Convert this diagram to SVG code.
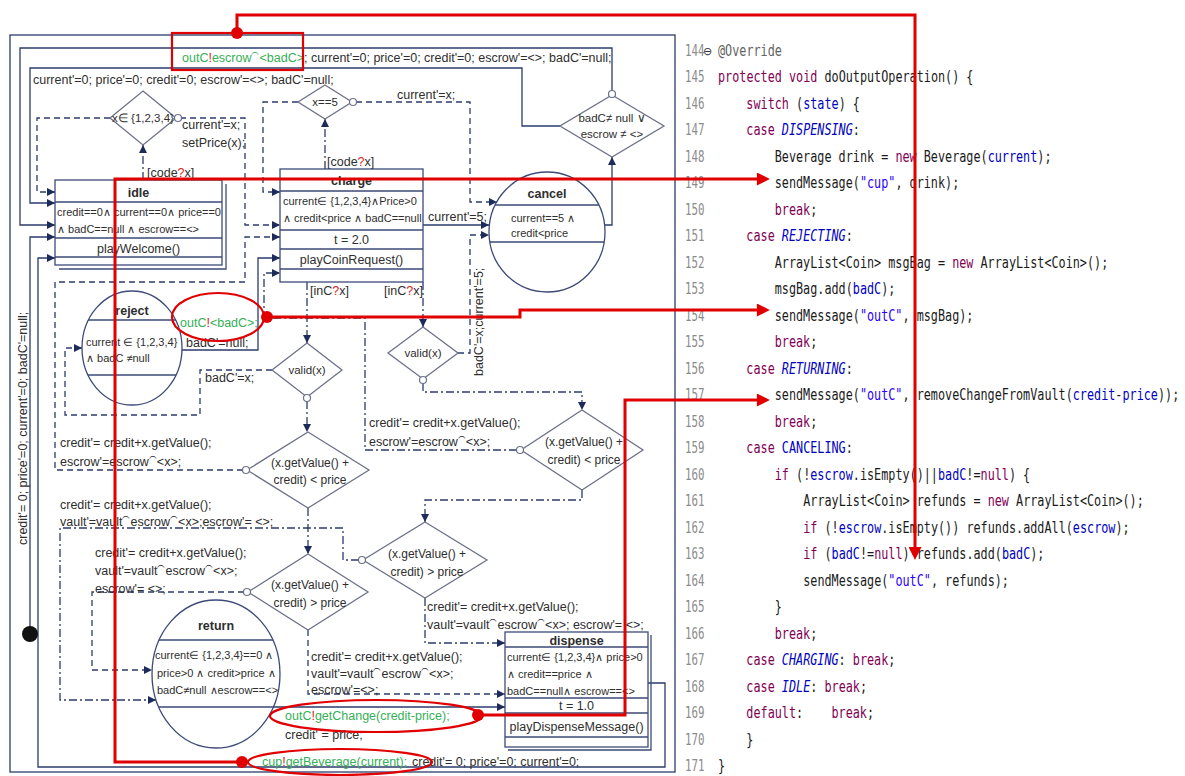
<svg xmlns="http://www.w3.org/2000/svg" width="1185" height="776" viewBox="0 0 1185 776">
<defs>
<marker id="ah" viewBox="0 0 10 10" refX="10" refY="5" markerWidth="10" markerHeight="8" markerUnits="userSpaceOnUse" orient="auto"><path d="M0,0L10,5L0,10z" fill="#1c2b5a"/></marker>
<marker id="rh" viewBox="0 0 10 10" refX="7" refY="5" markerWidth="14" markerHeight="13" markerUnits="userSpaceOnUse" orient="auto"><path d="M0,0L10,5L0,10z" fill="#e00000"/></marker>
<style>
.ln{fill:none;stroke:#2b3b6b;stroke-width:1.3}
.ds{stroke-dasharray:6 4}
.dd{stroke-dasharray:8 3 2 3}
.box{fill:#fff;stroke:#3c4a78;stroke-width:1.3}
.sep{stroke:#3c4a78;stroke-width:1.3}
.dia{fill:#fff;stroke:#6d7189;stroke-width:1.3}
.oc{fill:#fff;stroke:#6d7189;stroke-width:1.2}
text{font-family:'Liberation Sans',Arial,sans-serif;fill:#2e2e2e}
.lb{font-size:12.5px}
.cd{font-size:11px}
.ac{font-size:12.5px}
.ti{font-size:12.5px;font-weight:bold}
.g{fill:#35b057}
.rd{fill:#e02020}
.red{fill:none;stroke:#e00000;stroke-width:3}
.rel{fill:none;stroke:#e00000;stroke-width:2.2}
.mono{font-family:'DejaVu Sans Mono',monospace;font-size:16px;fill:#1a1a1a}
.num{font-family:'DejaVu Sans Mono',monospace;font-size:15px;fill:#8c8c8c}
.k{fill:#7f0055}
.f{fill:#0000c0}
.e{fill:#0000c0;font-style:italic}
.s{fill:#2a00ff}
</style>
</defs>
<rect width="1185" height="776" fill="#fff"/>

<rect x="10" y="35" width="665" height="737" class="ln"/>

<g id="connectors">
<path class="ln" d="M612,91 V48 H20 V225 H55" marker-end="url(#ah)"/>
<path class="ln" d="M560,126 H522 V68 H30 V203 H55" marker-end="url(#ah)"/>
<path class="ln ds" d="M110,118 H37 V192 H55" marker-end="url(#ah)"/>
<path class="ln ds" d="M180,118 H245 V225 H280" marker-end="url(#ah)"/>
<path class="ln ds" d="M243,470 H55 V282 H245 V237 H280" marker-end="url(#ah)"/>
<path class="ln ds" d="M298,102 H263 V192 H280" marker-end="url(#ah)"/>
<path class="ln ds" d="M356,102 H470 V202 H497" marker-end="url(#ah)"/>
<path class="ln" d="M423,225 H489" marker-end="url(#ah)"/>
<path class="ln ds" d="M458,353 H470 V235 H489" marker-end="url(#ah)"/>
<path class="ln" d="M605,225 H612 V157" marker-end="url(#ah)"/>
<path class="ln dd" d="M143,180 V145" marker-end="url(#ah)"/>
<path class="ln dd" d="M325,169 V119" marker-end="url(#ah)"/>
<path class="ln dd" d="M307,282 V343" marker-end="url(#ah)"/>
<path class="ln dd" d="M423,282 V327" marker-end="url(#ah)"/>
<path class="ln dd" d="M307,401 V432" marker-end="url(#ah)"/>
<path class="ln ds" d="M272,370 H200 V415 H65 V348 H82" marker-end="url(#ah)"/>
<path class="ln" d="M182,350 H258 V258 H280" marker-end="url(#ah)"/>
<path class="ln dd" d="M423,383 V392 H582 V410" marker-end="url(#ah)"/>
<path class="ln dd" d="M517,450 H365 V318 H264 V273 H280" marker-end="url(#ah)"/>
<path class="ln dd" d="M308,508 V554" marker-end="url(#ah)"/>
<path class="ln dd" d="M582,490 V500 H425 V522" marker-end="url(#ah)"/>
<path class="ln ds" d="M244,592 H92 V670 H152" marker-end="url(#ah)"/>
<path class="ln dd" d="M359,560 H343 V528 H60 V700 H156" marker-end="url(#ah)"/>
<path class="ln ds" d="M308,630 V694 H505" marker-end="url(#ah)"/>
<path class="ln dd" d="M425,598 V643 H505" marker-end="url(#ah)"/>
<path class="ln" d="M273,707 H505" marker-end="url(#ah)"/>
<path class="ln" d="M648,683 H665 V767 H38 V258 H55" marker-end="url(#ah)"/>
<path class="ln" d="M30,627 V237 H55" marker-end="url(#ah)"/>
</g>

<g id="labels">
<text class="lb" x="33" y="84">current'=0; price'=0; credit'=0; escrow'=&lt;&gt;; badC'=null;</text>
<text class="lb" x="182" y="62"><tspan class="g">outC</tspan><tspan class="rd">!</tspan><tspan class="g">escrow⁀&lt;badC&gt;</tspan>; current'=0; price'=0; credit'=0; escrow'=&lt;&gt;; badC'=null;</text>
<text class="lb" x="182" y="129">current'=x;</text>
<text class="lb" x="182" y="147">setPrice(x);</text>
<text class="lb" x="147" y="177">[code<tspan class="rd">?</tspan>x]</text>
<text class="lb" x="327" y="166">[code<tspan class="rd">?</tspan>x]</text>
<text class="lb" x="397" y="99">current'=x;</text>
<text class="lb" x="428" y="221">current'=5;</text>
<text class="lb" x="310" y="295">[inC<tspan class="rd">?</tspan>x]</text>
<text class="lb" x="384" y="295">[inC<tspan class="rd">?</tspan>x]</text>
<text class="lb" transform="translate(483,376) rotate(-90)">badC'=x;current'=5;</text>
<text class="lb" x="180" y="327"><tspan class="g">outC</tspan><tspan class="rd">!</tspan><tspan class="g">&lt;badC&gt;;</tspan></text>
<text class="lb" x="186" y="347">badC'=null;</text>
<text class="lb" x="205" y="382">badC'=x;</text>
<text class="lb" x="60" y="447">credit'= credit+x.getValue();</text>
<text class="lb" x="60" y="466">escrow'=escrow⁀&lt;x&gt;;</text>
<text class="lb" x="369" y="427">credit'= credit+x.getValue();</text>
<text class="lb" x="369" y="446">escrow'=escrow⁀&lt;x&gt;;</text>
<text class="lb" x="60" y="509">credit'= credit+x.getValue();</text>
<text class="lb" x="60" y="526">vault'=vault⁀escrow⁀&lt;x&gt;;escrow'= &lt;&gt;;</text>
<text class="lb" x="95" y="557">credit'= credit+x.getValue();</text>
<text class="lb" x="95" y="575">vault'=vault⁀escrow⁀&lt;x&gt;;</text>
<text class="lb" x="95" y="593">escrow'= &lt;&gt;;</text>
<text class="lb" x="427" y="611">credit'= credit+x.getValue();</text>
<text class="lb" x="427" y="629">vault'=vault⁀escrow⁀&lt;x&gt;; escrow'= &lt;&gt;;</text>
<text class="lb" x="311" y="661">credit'= credit+x.getValue();</text>
<text class="lb" x="311" y="678">vault'=vault⁀escrow⁀&lt;x&gt;;</text>
<text class="lb" x="311" y="694">escrow'=&lt;&gt;;</text>
<text class="lb" x="285" y="720"><tspan class="g">outC</tspan><tspan class="rd">!</tspan><tspan class="g">getChange(credit-price);</tspan></text>
<text class="lb" x="285" y="739">credit' = price;</text>
<text class="lb" x="262" y="766"><tspan class="g">cup</tspan><tspan class="rd">!</tspan><tspan class="g">getBeverage(current);</tspan><tspan x="412">credit'= 0; price'=0; current'=0;</tspan></text>
<text class="lb" transform="translate(27,545) rotate(-90)">credit'= 0; price'=0; current'=0; badC'=null;</text>
</g>

<g id="initial"><circle cx="30" cy="634" r="8" fill="#111"/></g>

<g id="idle">
<path d="M226,184 V269 H59" fill="none" class="sep"/>
<rect x="55" y="180" width="167" height="85" class="box"/>
<path d="M55,202 H222 M55,238 H222 M55,257 H222" class="sep"/>
<text class="ti" x="138.5" y="197" text-anchor="middle">idle</text>
<text class="cd" x="57" y="216">credit==0∧ current==0∧ price==0</text>
<text class="cd" x="57" y="233">∧ badC==null ∧ escrow==&lt;&gt;</text>
<text class="ac" x="138.5" y="253" text-anchor="middle">playWelcome()</text>
</g>

<g id="charge">
<rect x="280" y="169" width="143" height="113" class="box"/>
<path d="M280,191 H423 M280,230 H423 M280,249 H423 M280,269 H423" class="sep"/>
<text class="ti" x="351.5" y="185" text-anchor="middle">charge</text>
<text class="cd" x="283" y="205">current∈ {1,2,3,4}∧Price&gt;0</text>
<text class="cd" x="283" y="222">∧ credit&lt;price ∧ badC==null</text>
<text class="ac" x="351.5" y="244" text-anchor="middle">t = 2.0</text>
<text class="ac" x="351.5" y="264" text-anchor="middle">playCoinRequest()</text>
</g>

<g id="cancel">
<ellipse cx="547" cy="232" rx="58" ry="60" class="box" stroke-width="1.6"/>
<path d="M495,205 H599 M490,242 H604" class="sep" stroke-width="2"/>
<text class="ti" x="547" y="198" text-anchor="middle">cancel</text>
<text class="cd" x="511" y="222">current==5 ∧</text>
<text class="cd" x="511" y="237">credit&lt;price</text>
</g>

<g id="reject">
<ellipse cx="132" cy="348" rx="50" ry="57" class="box" stroke-width="1.6"/>
<path d="M88,320 H176 M88,375 H176" class="sep" stroke-width="2"/>
<text class="ti" x="132" y="315" text-anchor="middle">reject</text>
<text class="cd" x="86" y="346">current ∈ {1,2,3,4}</text>
<text class="cd" x="86" y="362">∧ badC ≠null</text>
</g>

<g id="return">
<ellipse cx="216" cy="674" rx="64" ry="74" class="box" stroke-width="1.6"/>
<path d="M159,640 H273 M159,707 H273" class="sep" stroke-width="2.4"/>
<text class="ti" x="216" y="630" text-anchor="middle">return</text>
<text class="cd" x="155" y="659" font-size="10.3">current∈ {1,2,3,4}==0 ∧</text>
<text class="cd" x="157" y="677" font-size="10.3">price&gt;0 ∧ credit&gt;price ∧</text>
<text class="cd" x="157" y="694" font-size="10.3">badC≠null ∧escrow==&lt;&gt;</text>
</g>

<g id="dispense">
<path d="M651,635 V750 H508" fill="none" class="sep"/>
<rect x="505" y="632" width="143" height="115" class="box"/>
<path d="M505,647 H648 M505,698 H648 M505,713 H648 M505,737 H648" class="sep"/>
<text class="ti" x="576.5" y="645" text-anchor="middle" font-size="13">dispense</text>
<text class="cd" x="507" y="661">current∈ {1,2,3,4}∧ price&gt;0</text>
<text class="cd" x="507" y="678">∧ credit==price ∧</text>
<text class="cd" x="507" y="695">badC==null∧ escrow==&lt;&gt;</text>
<text class="ac" x="576.5" y="710" text-anchor="middle">t = 1.0</text>
<text class="ac" x="576.5" y="731" text-anchor="middle">playDispenseMessage()</text>
</g>

<g id="d1"><polygon points="143,91 176,118 143,145 110,118" class="dia"/><circle cx="178" cy="118" r="3.5" class="oc"/><text x="143" y="122" text-anchor="middle" font-size="11.5">x∈ {1,2,3,4}</text></g>
<g id="d2"><polygon points="325,85 352,102 325,119 298,102" class="dia"/><circle cx="353" cy="102" r="3.5" class="oc"/><text x="325" y="106" text-anchor="middle" font-size="11.5">x==5</text></g>
<g id="d3"><polygon points="612,95 664,126 612,157 560,126" class="dia"/><circle cx="612" cy="94" r="3.5" class="oc"/><text x="612" y="122" text-anchor="middle" font-size="11.5">badC≠ null ∨</text><text x="612" y="138" text-anchor="middle" font-size="11.5">escrow ≠ &lt;&gt;</text></g>
<g id="d4"><polygon points="307,343 342,370 307,397 272,370" class="dia"/><circle cx="307" cy="398" r="3.5" class="oc"/><text x="307" y="374" text-anchor="middle" font-size="11.5">valid(x)</text></g>
<g id="d5"><polygon points="423,327 458,353 423,379 388,353" class="dia"/><circle cx="423" cy="380" r="3.5" class="oc"/><text x="423" y="357" text-anchor="middle" font-size="11.5">valid(x)</text></g>
<g id="d6"><polygon points="308,432 369,470 308,508 247,470" class="dia"/><circle cx="246" cy="470" r="3.5" class="oc"/><text x="310" y="467" text-anchor="middle" font-size="12">(x.getValue() +</text><text x="310" y="484" text-anchor="middle" font-size="12">credit) &lt; price</text></g>
<g id="d7"><polygon points="582,410 643,450 582,490 521,450" class="dia"/><circle cx="520" cy="450" r="3.5" class="oc"/><text x="584" y="446" text-anchor="middle" font-size="12">(x.getValue() +</text><text x="584" y="464" text-anchor="middle" font-size="12">credit) &lt; price</text></g>
<g id="d8"><polygon points="308,554 368,592 308,630 248,592" class="dia"/><circle cx="247" cy="592" r="3.5" class="oc"/><text x="310" y="589" text-anchor="middle" font-size="12">(x.getValue() +</text><text x="310" y="607" text-anchor="middle" font-size="12">credit) &gt; price</text></g>
<g id="d9"><polygon points="425,522 487,560 425,598 363,560" class="dia"/><circle cx="362" cy="560" r="3.5" class="oc"/><text x="427" y="558" text-anchor="middle" font-size="12">(x.getValue() +</text><text x="427" y="576" text-anchor="middle" font-size="12">credit) &gt; price</text></g>

<g id="linenos" transform="translate(685,0) scale(0.72,1)">
<text class="num" x="0" y="56">144</text>
<text class="num" x="0" y="82.5">145</text>
<text class="num" x="0" y="109">146</text>
<text class="num" x="0" y="135.5">147</text>
<text class="num" x="0" y="162">148</text>
<text class="num" x="0" y="188.5">149</text>
<text class="num" x="0" y="215">150</text>
<text class="num" x="0" y="241.5">151</text>
<text class="num" x="0" y="268">152</text>
<text class="num" x="0" y="294.5">153</text>
<text class="num" x="0" y="321">154</text>
<text class="num" x="0" y="347.5">155</text>
<text class="num" x="0" y="374">156</text>
<text class="num" x="0" y="400.5">157</text>
<text class="num" x="0" y="427">158</text>
<text class="num" x="0" y="453.5">159</text>
<text class="num" x="0" y="480">160</text>
<text class="num" x="0" y="506.5">161</text>
<text class="num" x="0" y="533">162</text>
<text class="num" x="0" y="559.5">163</text>
<text class="num" x="0" y="586">164</text>
<text class="num" x="0" y="612.5">165</text>
<text class="num" x="0" y="639">166</text>
<text class="num" x="0" y="665.5">167</text>
<text class="num" x="0" y="692">168</text>
<text class="num" x="0" y="718.5">169</text>
<text class="num" x="0" y="745">170</text>
<text class="num" x="0" y="771.5">171</text>
</g>
<text x="703" y="55" font-size="11" fill="#8c8c8c">⊖</text>

<g id="code" transform="translate(718,0) scale(0.737,1)">
<text class="mono" x="0" y="56" fill="#646464" style="fill:#646464">@Override</text>
<text class="mono" x="0" y="82.5"><tspan class="k">protected</tspan> <tspan class="k">void</tspan> doOutputOperation() {</text>
<text class="mono" x="38.5" y="109"><tspan class="k">switch</tspan> (<tspan class="f">state</tspan>) {</text>
<text class="mono" x="38.5" y="135.5"><tspan class="k">case</tspan> <tspan class="e">DISPENSING</tspan>:</text>
<text class="mono" x="77" y="162">Beverage drink = <tspan class="k">new</tspan> Beverage(<tspan class="f">current</tspan>);</text>
<text class="mono" x="77" y="188.5">sendMessage(<tspan class="s">"cup"</tspan>, drink);</text>
<text class="mono" x="77" y="215"><tspan class="k">break</tspan>;</text>
<text class="mono" x="38.5" y="241.5"><tspan class="k">case</tspan> <tspan class="e">REJECTING</tspan>:</text>
<text class="mono" x="77" y="268">ArrayList&lt;Coin&gt; msgBag = <tspan class="k">new</tspan> ArrayList&lt;Coin&gt;();</text>
<text class="mono" x="77" y="294.5">msgBag.add(<tspan class="f">badC</tspan>);</text>
<text class="mono" x="77" y="321">sendMessage(<tspan class="s">"outC"</tspan>, msgBag);</text>
<text class="mono" x="77" y="347.5"><tspan class="k">break</tspan>;</text>
<text class="mono" x="38.5" y="374"><tspan class="k">case</tspan> <tspan class="e">RETURNING</tspan>:</text>
<text class="mono" x="77" y="400.5">sendMessage(<tspan class="s">"outC"</tspan>, removeChangeFromVault(<tspan class="f">credit</tspan>-<tspan class="f">price</tspan>));</text>
<text class="mono" x="77" y="427"><tspan class="k">break</tspan>;</text>
<text class="mono" x="38.5" y="453.5"><tspan class="k">case</tspan> <tspan class="f">CANCELING</tspan>:</text>
<text class="mono" x="77" y="480"><tspan class="k">if</tspan> (!<tspan class="f">escrow</tspan>.isEmpty()||<tspan class="f">badC</tspan>!=<tspan class="k">null</tspan>) {</text>
<text class="mono" x="115.6" y="506.5">ArrayList&lt;Coin&gt; refunds = <tspan class="k">new</tspan> ArrayList&lt;Coin&gt;();</text>
<text class="mono" x="115.6" y="533"><tspan class="k">if</tspan> (!<tspan class="f">escrow</tspan>.isEmpty()) refunds.addAll(<tspan class="f">escrow</tspan>);</text>
<text class="mono" x="115.6" y="559.5"><tspan class="k">if</tspan> (<tspan class="f">badC</tspan>!=<tspan class="k">null</tspan>) refunds.add(<tspan class="f">badC</tspan>);</text>
<text class="mono" x="115.6" y="586">sendMessage(<tspan class="s">"outC"</tspan>, refunds);</text>
<text class="mono" x="77" y="612.5">}</text>
<text class="mono" x="77" y="639"><tspan class="k">break</tspan>;</text>
<text class="mono" x="38.5" y="665.5"><tspan class="k">case</tspan> <tspan class="e">CHARGING</tspan>: <tspan class="k">break</tspan>;</text>
<text class="mono" x="38.5" y="692"><tspan class="k">case</tspan> <tspan class="e">IDLE</tspan>: <tspan class="k">break</tspan>;</text>
<text class="mono" x="38.5" y="718.5"><tspan class="k">default</tspan>:<tspan class="k" x="154">break</tspan>;</text>
<text class="mono" x="38.5" y="745">}</text>
<text class="mono" x="0" y="771.5">}</text>
</g>

<g id="annotations">
<rect x="172" y="33" width="131" height="37" class="rel"/>
<ellipse cx="218" cy="317" rx="46" ry="24" class="rel"/>
<ellipse cx="376" cy="716" rx="106" ry="16" class="rel"/>
<ellipse cx="340" cy="762" rx="92" ry="13" class="rel"/>
<path class="red" d="M237,33 V15 H915 V556" marker-end="url(#rh)"/>
<path class="red" d="M242,762 H115 V179 H766" marker-end="url(#rh)"/>
<path class="red" d="M267,317 H520 V310 H766" marker-end="url(#rh)"/>
<path class="red" d="M478,715 H625 V400 H766" marker-end="url(#rh)"/>
<circle cx="237" cy="33" r="6" fill="#e00000"/>
<circle cx="242" cy="762" r="6" fill="#e00000"/>
<circle cx="267" cy="317" r="6" fill="#e00000"/>
<circle cx="478" cy="715" r="6" fill="#e00000"/>
</g>
</svg>
